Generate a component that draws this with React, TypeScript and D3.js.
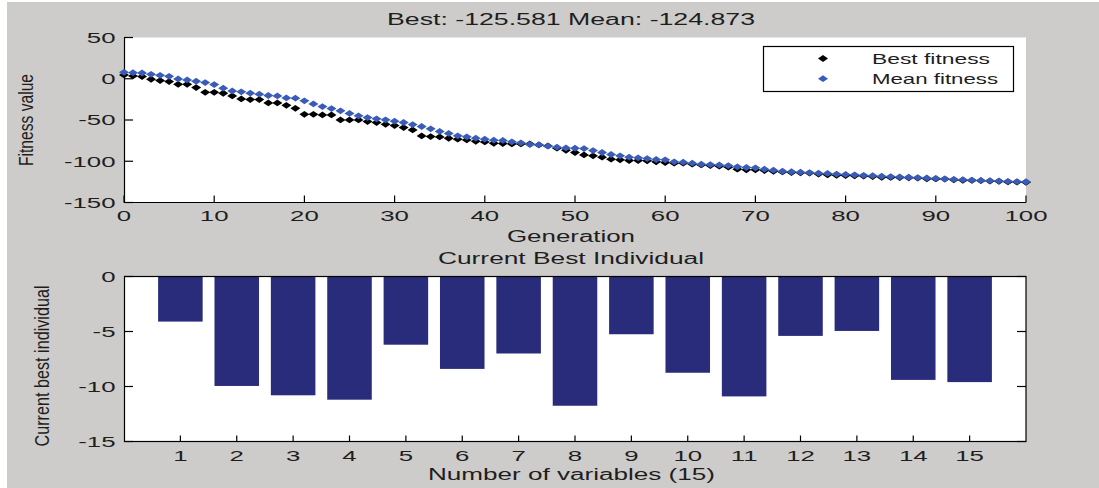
import React from 'react';
import * as d3 from 'd3';

const generations: number[] = d3.range(0, 101);

const bestFitness: number[] = [
  4.6, 3.4, 2.6, -0.6, -2.2, -3.4, -6.7, -6.7, -10.7, -16.4,
  -16.4, -17.6, -20.8, -24.5, -25.3, -25.3, -29.3, -29.3, -32.2, -35.8,
  -43.1, -43.1, -43.9, -43.9, -49.9, -49.9, -49.9, -51.9, -53.1, -55.2,
  -56.8, -59.2, -62.0, -69.3, -70.1, -70.5, -72.1, -73.3, -74.1, -75.8,
  -76.6, -78.2, -78.6, -79.0, -79.0, -79.0, -80.2, -81.4, -84.2, -86.7,
  -89.4, -92.3, -93.4, -95.1, -97.5, -98.3, -99.1, -99.1, -99.5, -100.7,
  -101.5, -102.3, -102.3, -103.6, -104.4, -105.2, -106.0, -107.2, -109.6, -110.4,
  -110.4, -111.2, -112.1, -112.9, -113.7, -114.0, -114.3, -115.5, -116.5, -117.0,
  -117.3, -117.6, -118.0, -118.5, -119.4, -119.6, -119.8, -120.0, -120.4, -121.2,
  -121.4, -121.6, -122.5, -123.0, -123.3, -123.6, -124.0, -124.3, -125.0, -125.3,
  -125.581,
];

const meanFitness: number[] = [
  7.8, 7.4, 7.0, 5.4, 4.2, 3.0, -0.2, -1.4, -3.0, -4.6,
  -7.0, -11.4, -14.7, -15.9, -17.5, -18.7, -20.3, -20.8, -23.2, -23.6,
  -26.8, -30.5, -33.7, -36.1, -38.9, -42.0, -44.9, -47.0, -48.6, -49.8,
  -51.4, -53.0, -55.5, -57.9, -60.7, -63.9, -66.3, -69.2, -70.4, -72.0,
  -73.2, -74.4, -74.8, -76.5, -77.7, -79.7, -80.1, -81.7, -82.9, -83.9,
  -84.2, -84.6, -87.0, -89.4, -91.8, -93.4, -95.1, -95.9, -96.7, -97.9,
  -98.3, -100.7, -101.1, -102.3, -103.6, -104.0, -104.4, -105.2, -106.8, -107.6,
  -108.0, -109.6, -110.8, -112.1, -112.7, -113.2, -113.7, -114.4, -114.8, -115.5,
  -116.0, -116.4, -117.1, -117.5, -118.2, -118.6, -119.0, -119.4, -119.8, -120.3,
  -120.7, -121.3, -121.9, -122.3, -122.8, -123.2, -123.6, -123.9, -124.3, -124.6,
  -124.873,
];

const variables: number[] = [1, 2, 3, 4, 5, 6, 7, 8, 9, 10, 11, 12, 13, 14, 15];
const bestIndividual: number[] = [
  -4.1, -9.95, -10.8, -11.2, -6.2, -8.4, -7.0, -11.75, -5.25, -8.75, -10.9, -5.4, -4.95, -9.4, -9.6,
];

const topXTicks: number[] = [0, 10, 20, 30, 40, 50, 60, 70, 80, 90, 100];
const topYTicks: number[] = [50, 0, -50, -100, -150];
const bottomYTicks: number[] = [0, -5, -10, -15];

const titleText = 'Best: -125.581 Mean: -124.873';
const topXLabel = 'Generation';
const topYLabel = 'Fitness value';
const bottomTitle = 'Current Best Individual';
const bottomXLabel = 'Number of variables (15)';
const bottomYLabel = 'Current best individual';
const legendLabels = ['Best fitness', 'Mean fitness'];

const FONT = '"Liberation Sans", Arial, Helvetica, sans-serif';
const TXT = '#1e1e1e';
const BLUE = '#3a5bb8';
const BAR = '#292c7b';
const BG = '#cdccca';
const SX = 1.72;

const W = 1099;
const H = 488;
const L = 124;
const R = 1026;

export default function App() {
  const xTop = d3.scaleLinear().domain([0, 100]).range([L, R]);
  const yTop = d3.scaleLinear().domain([-150, 50]).range([202.5, 37.5]);
  const xBot = d3.scaleLinear().domain([0, 16]).range([L, R]);
  const yBot = d3.scaleLinear().domain([-15, 0]).range([441.5, 276.5]);

  const diamond = (x: number, y: number, w = 5, h = 3.4) =>
    `M${x - w},${y}L${x},${y - h}L${x + w},${y}L${x},${y + h}Z`;

  const tickLabel = (x: number, y: number, t: string, anchor: string, key: string) => (
    <text
      key={key}
      transform={`translate(${x},${y}) scale(${SX},1)`}
      textAnchor={anchor}
      fontSize={15}
      fontFamily={FONT}
      fill={TXT}
    >
      {t}
    </text>
  );

  const stretched = (x: number, y: number, t: string, len: number, size = 16) => (
    <text
      x={x - len / 2}
      y={y}
      textLength={len}
      lengthAdjust="spacingAndGlyphs"
      fontSize={size}
      fontFamily={FONT}
      fill={TXT}
    >
      {t}
    </text>
  );

  const barW = xBot(0.79) - xBot(0);

  return (
    <svg
      width={W}
      height={H}
      style={{ position: 'absolute', left: 0, top: 0, display: 'block' }}
    >
      <rect x={0} y={0} width={W} height={H} fill="#ffffff" />
      <rect x={7} y={2} width={W - 7} height={H - 2} fill={BG} />

      {/* ---------- Top plot ---------- */}
      <rect x={L} y={yTop(50)} width={R - L} height={yTop(-150) - yTop(50)} fill="#ffffff" />
      {stretched(571, 25, titleText, 368)}

      <line x1={L + 0.5} x2={L + 0.5} y1={yTop(50)} y2={yTop(-150)} stroke="#000" strokeWidth={1.2} />
      <line x1={L} x2={R} y1={yTop(-150)} y2={yTop(-150)} stroke="#000" strokeWidth={1.2} />
      {topYTicks.map((t) => (
        <g key={'yt' + t}>
          <line x1={L} x2={L + 9} y1={yTop(t)} y2={yTop(t)} stroke="#000" strokeWidth={1.2} />
          {tickLabel(115.5, yTop(t) + 5.4, String(t), 'end', 'ytl' + t)}
        </g>
      ))}
      {topXTicks.map((t) => (
        <g key={'xt' + t}>
          <line x1={xTop(t)} x2={xTop(t)} y1={yTop(-150)} y2={yTop(-150) - 7} stroke="#000" strokeWidth={1.2} />
          {tickLabel(xTop(t), 220.5, String(t), 'middle', 'xtl' + t)}
        </g>
      ))}
      {stretched(571, 242, topXLabel, 128)}
      <text
        transform={`translate(33,120) scale(1.35,1) rotate(-90)`}
        textAnchor="middle"
        textLength={92}
        lengthAdjust="spacingAndGlyphs"
        fontSize={15}
        fontFamily={FONT}
        fill={TXT}
      >
        {topYLabel}
      </text>

      {generations.map((g, i) => (
        <path key={'b' + g} d={diamond(xTop(g), yTop(bestFitness[i]))} fill="#000" />
      ))}
      {generations.map((g, i) => (
        <path key={'m' + g} d={diamond(xTop(g), yTop(meanFitness[i]))} fill={BLUE} />
      ))}

      <rect x={763.5} y={46.5} width={250} height={45} fill="#ffffff" stroke="#000" strokeWidth={1.2} />
      <path d={diamond(823, 58.5)} fill="#000" />
      <path d={diamond(823, 78.7)} fill={BLUE} />
      <text x={872} y={64} textLength={118} lengthAdjust="spacingAndGlyphs" fontSize={15} fontFamily={FONT} fill={TXT}>
        {legendLabels[0]}
      </text>
      <text x={872} y={84} textLength={126} lengthAdjust="spacingAndGlyphs" fontSize={15} fontFamily={FONT} fill={TXT}>
        {legendLabels[1]}
      </text>

      {/* ---------- Bottom plot ---------- */}
      <rect x={L} y={yBot(0)} width={R - L} height={yBot(-15) - yBot(0)} fill="#ffffff" />
      {stretched(571, 264, bottomTitle, 266)}
      {variables.map((v, i) => (
        <rect
          key={'bar' + v}
          x={xBot(v) - barW / 2}
          y={yBot(0)}
          width={barW}
          height={yBot(bestIndividual[i]) - yBot(0)}
          fill={BAR}
        />
      ))}
      <rect
        x={L + 0.5}
        y={yBot(0)}
        width={R - L - 0.5}
        height={yBot(-15) - yBot(0)}
        fill="none"
        stroke="#000"
        strokeWidth={1.2}
      />
      {bottomYTicks.map((t) => (
        <g key={'byt' + t}>
          <line x1={L} x2={L + 9} y1={yBot(t)} y2={yBot(t)} stroke="#000" strokeWidth={1.2} />
          <line x1={R - 9} x2={R} y1={yBot(t)} y2={yBot(t)} stroke="#000" strokeWidth={1.2} />
          {tickLabel(115.5, yBot(t) + 5.4, String(t), 'end', 'bytl' + t)}
        </g>
      ))}
      {variables.map((v) => (
        <g key={'bxt' + v}>
          <line x1={xBot(v)} x2={xBot(v)} y1={yBot(-15)} y2={yBot(-15) - 6} stroke="#000" strokeWidth={1.2} />
          {tickLabel(xBot(v), 460.5, String(v), 'middle', 'bxtl' + v)}
        </g>
      ))}
      {stretched(571.5, 480, bottomXLabel, 287)}
      <text
        transform={`translate(49,366) scale(1.35,1) rotate(-90)`}
        textAnchor="middle"
        textLength={161}
        lengthAdjust="spacingAndGlyphs"
        fontSize={15}
        fontFamily={FONT}
        fill={TXT}
      >
        {bottomYLabel}
      </text>
    </svg>
  );
}
